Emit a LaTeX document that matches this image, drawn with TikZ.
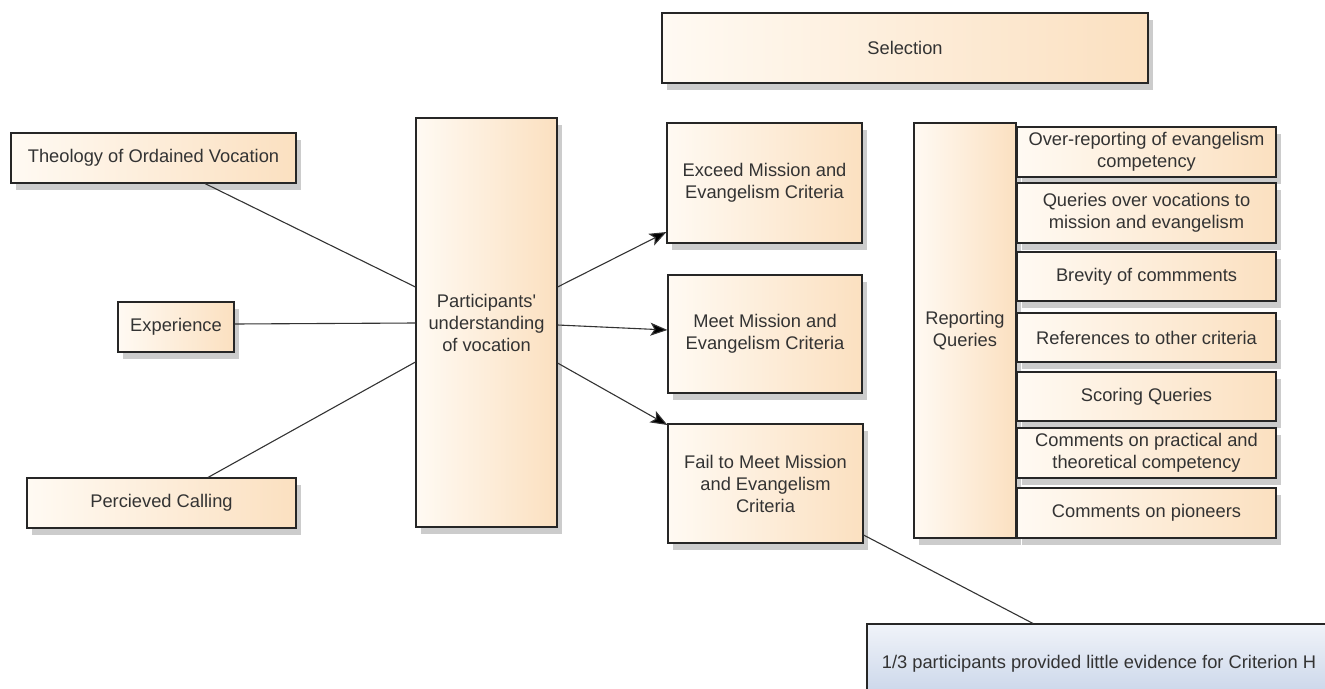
\documentclass[tikz,border=0pt]{standalone}
\usepackage{fontspec}
\setmainfont{Liberation Sans}
\usetikzlibrary{shadows,arrows.meta,calc}
\definecolor{peachL}{HTML}{FFFAF3}
\definecolor{peachR}{HTML}{FBE0C0}
\definecolor{blueT}{HTML}{F0F3F9}
\definecolor{blueB}{HTML}{C6D3E8}
\definecolor{edgec}{HTML}{262626}
\definecolor{txtc}{HTML}{333333}
\definecolor{linec}{HTML}{333333}
\begin{document}
\begin{tikzpicture}[x=1pt,y=-1pt,
  box/.style={draw=edgec, line width=1.1pt, left color=peachL, right color=peachR,
    drop shadow={shadow xshift=5pt,shadow yshift=-7pt,opacity=0.2,fill=black},
    text=txtc, font=\fontsize{18.3}{22}\selectfont, align=center, inner sep=2pt,
    rectangle},
  bluebox/.style={box, top color=blueT, bottom color=blueB},
  conn/.style={draw=linec, line width=1.1pt},
  arr/.style={conn, -{Stealth[length=17pt,width=13pt,inset=4pt,fill=black]}}
]
\useasboundingbox (0,0) rectangle (1325,688);
\clip (0,0) rectangle (1325,688);

\node[box, minimum width=486pt, minimum height=70pt] (sel) at (905,48) {Selection};
\node[box, minimum width=285pt, minimum height=50pt] (theo) at (153.5,158) {Theology of Ordained Vocation};
\node[box, minimum width=116pt, minimum height=50pt] (exp) at (176,327) {Experience};
\node[box, minimum width=269pt, minimum height=50pt] (perc) at (161.5,503) {Percieved Calling};
\node[box, minimum width=141pt, minimum height=409pt] (part) at (486.5,322.5) {Participants\textquotesingle\\understanding\\of vocation};
\node[box, minimum width=195pt, minimum height=120pt] (exc) at (764.5,183) {Exceed Mission and\\Evangelism Criteria};
\node[box, minimum width=194pt, minimum height=118pt] (meet) at (765,334) {Meet Mission and\\Evangelism Criteria};
\node[box, minimum width=195pt, minimum height=119pt] (fail) at (765.5,483.5) {Fail to Meet Mission\\and Evangelism\\Criteria};
\node[box, minimum width=102pt, minimum height=415pt] (rep) at (965,330.5) {Reporting\\Queries};
\node[box, minimum width=259pt, minimum height=50pt] (q1) at (1146.5,152) {Over-reporting of evangelism\\competency};
\node[box, minimum width=259pt, minimum height=60pt] (q2) at (1146.5,213) {Queries over vocations to\\mission and evangelism};
\node[box, minimum width=259pt, minimum height=49pt] (q3) at (1146.5,276.5) {Brevity of commments};
\node[box, minimum width=259pt, minimum height=49pt] (q4) at (1146.5,337.5) {References to other criteria};
\node[box, minimum width=259pt, minimum height=49pt] (q5) at (1146.5,396.5) {Scoring Queries};
\node[box, minimum width=259pt, minimum height=50pt] (q6) at (1146.5,453) {Comments on practical and\\theoretical competency};
\node[box, minimum width=259pt, minimum height=50pt] (q7) at (1146.5,513) {Comments on pioneers};
\node[bluebox, minimum width=464pt, minimum height=80pt] (blue) at (1099,664) {1/3 participants provided little evidence for Criterion H};

\draw[conn] ([xshift=51.5pt]theo.south) -- ([yshift=35.5pt]part.west);
\draw[conn] ([yshift=3pt]exp.east) -- ([yshift=-0.5pt]part.west);
\draw[conn] ([xshift=46.5pt]perc.north) -- ([yshift=-39.5pt]part.west);
\draw[arr] ([yshift=35.5pt]part.east) -- ([yshift=-49pt]exc.west);
\draw[arr] ([yshift=-2.5pt]part.east) -- ([yshift=4pt]meet.west);
\draw[arr] ([yshift=-40.5pt]part.east) -- ([yshift=58.5pt]fail.west);
\draw[conn] ([yshift=-51.5pt]fail.east) -- ([xshift=-66pt]blue.north);
\end{tikzpicture}
\end{document}
